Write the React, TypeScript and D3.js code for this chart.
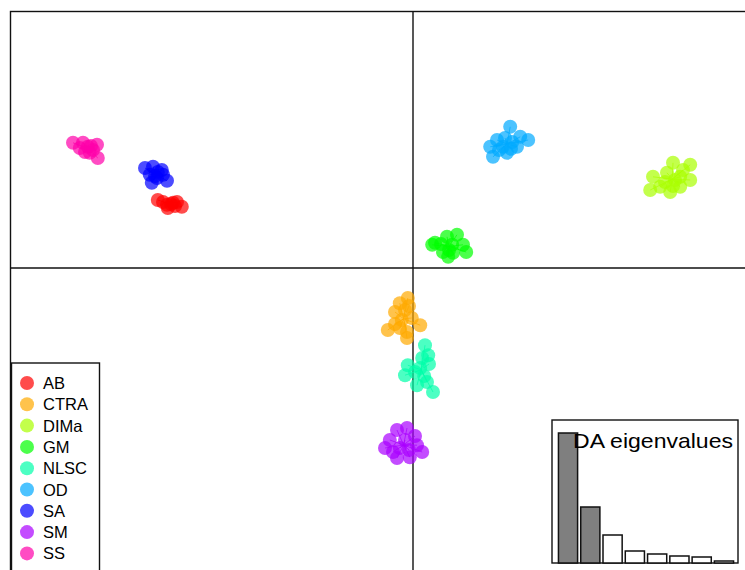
import React from 'react';
import * as d3 from 'd3';

// groups, in legend order, and rainbow(9) colours as in adegenet
const groups = ['AB', 'CTRA', 'DIMa', 'GM', 'NLSC', 'OD', 'SA', 'SM', 'SS'];
const colors = ['#FF0000', '#FFAA00', '#AAFF00', '#00FF00', '#00FFAA', '#00AAFF', '#0000FF', '#AA00FF', '#FF00AA'];

// discriminant scores (LD1, LD2)
const AB = [[-6.38, 1.7], [-6.15, 1.58], [-5.9, 1.65], [-5.78, 1.53], [-6.13, 1.5], [-6.0, 1.63], [-6.25, 1.65], [-5.95, 1.55], [-6.05, 1.6]];
const CTRA = [[-0.13, -0.75], [-0.33, -0.88], [-0.45, -1.1], [-0.63, -1.55], [-0.33, -1.5], [-0.15, -1.75], [0.18, -1.43], [-0.03, -1.25], [-0.15, -1.6], [-0.2, -1.05], [-0.28, -1.3], [-0.1, -0.95], [-0.45, -1.4]];
const DIMa = [[6.5, 2.63], [6.93, 2.58], [6.0, 2.28], [6.35, 2.38], [6.68, 2.28], [6.93, 2.2], [6.43, 1.9], [6.18, 2.03], [6.68, 2.03], [5.93, 1.95], [6.55, 2.2], [6.3, 2.15], [6.75, 2.45], [6.5, 2.05]];
const GM = [[0.55, 0.63], [0.85, 0.78], [1.1, 0.83], [0.75, 0.4], [1.0, 0.38], [1.33, 0.4], [1.25, 0.58], [0.48, 0.58], [0.98, 0.58], [0.88, 0.28], [0.7, 0.6], [0.9, 0.45]];
const NLSC = [[0.3, -1.93], [0.38, -2.18], [-0.13, -2.43], [-0.2, -2.68], [0.18, -2.5], [0.35, -2.85], [0.5, -3.1], [0.1, -2.93], [0.23, -2.25], [0.05, -2.6], [0.28, -2.7], [0.4, -2.4]];
const OD = [[2.43, 3.53], [2.88, 3.2], [2.1, 3.2], [2.25, 3.03], [2.0, 2.78], [2.35, 2.88], [2.6, 3.03], [1.93, 3.03], [2.68, 3.28], [2.48, 3.15], [2.3, 3.25], [2.45, 2.98], [2.15, 2.95]];
const SA = [[-6.7, 2.5], [-6.5, 2.53], [-6.28, 2.45], [-6.58, 2.33], [-6.4, 2.25], [-6.15, 2.18], [-6.53, 2.13], [-6.25, 2.33], [-6.38, 2.4], [-6.45, 2.3]];
const SM = [[-0.4, -4.05], [-0.15, -4.0], [-0.58, -4.3], [-0.7, -4.5], [-0.33, -4.5], [0.1, -4.43], [0.23, -4.6], [-0.4, -4.75], [-0.08, -4.73], [-0.2, -4.3], [-0.1, -4.55], [-0.5, -4.6], [0.05, -4.2]];
const SS = [[-8.5, 3.13], [-8.25, 3.13], [-8.13, 3.03], [-7.9, 3.08], [-8.08, 2.88], [-7.88, 2.75], [-8.2, 2.9], [-8.0, 2.95], [-8.33, 3.0], [-8.05, 3.05]];

const scores = [AB, CTRA, DIMa, GM, NLSC, OD, SA, SM, SS];

// DA eigenvalues (first two retained)
const eigenvalues = [1300, 560, 280, 120, 90, 70, 60, 20];
const nRetained = 2;

function App() {
	const width = 745;
	const height = 570;

	// plot region runs off the right and bottom edges
	const x = d3.scaleLinear().domain([-10.075, 8.3]).range([10, 745]);
	const y = d3.scaleLinear().domain([6.425, -8]).range([11, 588]);

	// eigenvalue inset
	const inset = { x0: 552, y0: 420, x1: 738, y1: 563 };
	const ex = d3
		.scaleBand()
		.domain(eigenvalues.map((d, i) => String(i)))
		.range([inset.x0 + 6, inset.x1 - 4])
		.paddingInner(0.14)
		.paddingOuter(0.02);
	const ey = d3
		.scaleLinear()
		.domain([0, d3.max(eigenvalues)])
		.range([inset.y1, inset.y0 + 13]);

	const legendY = d3.scaleLinear().domain([0, 1]).range([383, 404.3]);

	return (
		<svg
			width={width}
			height={height}
			style={{ position: 'absolute', left: 0, top: 0, background: '#fff' }}
			fontFamily="'Liberation Sans', Arial, sans-serif"
		>
			{/* frame */}
			<rect x={10.5} y={11.5} width={760} height={600} fill="none" stroke="#111" strokeWidth={1.4} />

			{/* axes through origin */}
			<line x1={10} x2={width} y1={y(0)} y2={y(0)} stroke="#111" strokeWidth={1.4} />
			<line x1={x(0)} x2={x(0)} y1={11} y2={height} stroke="#111" strokeWidth={1.4} />

			{/* star segments */}
			{scores.map((pts, g) => {
				const cx = d3.mean(pts, (d) => d[0]);
				const cy = d3.mean(pts, (d) => d[1]);
				return pts.map((p, i) => (
					<line
						key={`s${g}-${i}`}
						x1={x(cx)}
						y1={y(cy)}
						x2={x(p[0])}
						y2={y(p[1])}
						stroke={colors[g]}
						strokeOpacity={0.7}
						strokeWidth={1}
					/>
				));
			})}

			{/* points */}
			{scores.map((pts, g) =>
				pts.map((p, i) => (
					<circle
						key={`p${g}-${i}`}
						cx={x(p[0])}
						cy={y(p[1])}
						r={7}
						fill={colors[g]}
						fillOpacity={0.7}
					/>
				))
			)}

			{/* legend */}
			<rect x={11.5} y={363} width={88} height={230} fill="#fff" stroke="#111" strokeWidth={1.4} />
			{groups.map((g, i) => (
				<g key={g}>
					<circle cx={27} cy={legendY(i)} r={7} fill={colors[i]} fillOpacity={0.7} />
					<text x={43} y={legendY(i) + 6} fontSize={16.5} fill="#000">
						{g}
					</text>
				</g>
			))}

			{/* eigenvalue inset */}
			<rect
				x={inset.x0}
				y={inset.y0}
				width={inset.x1 - inset.x0}
				height={inset.y1 - inset.y0}
				fill="#fff"
				stroke="#111"
				strokeWidth={1.4}
			/>
			{eigenvalues.map((v, i) => (
				<rect
					key={`e${i}`}
					x={ex(String(i))}
					y={ey(v)}
					width={ex.bandwidth()}
					height={inset.y1 - ey(v)}
					fill={i < nRetained ? '#7f7f7f' : '#fff'}
					stroke="#111"
					strokeWidth={1.5}
				/>
			))}
			<text x={573} y={448} fontSize={21} textLength={160} lengthAdjust="spacingAndGlyphs" fill="#000">
				DA eigenvalues
			</text>
		</svg>
	);
}

export default App;
